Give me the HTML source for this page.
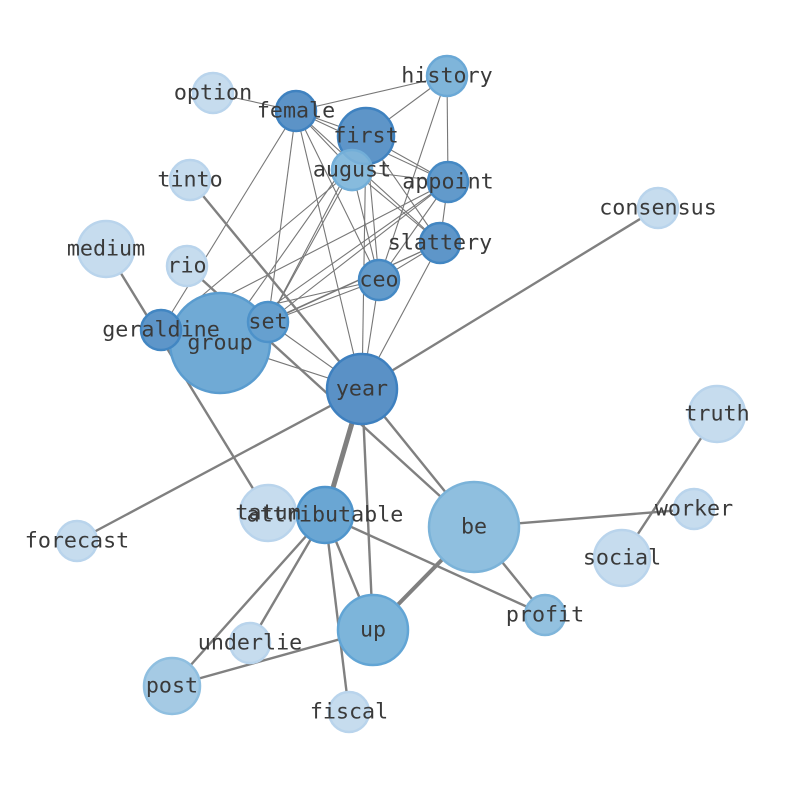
<!DOCTYPE html>
<html><head><meta charset="utf-8"><style>body{margin:0;background:#fff}svg{display:block}</style></head><body>
<svg width="794" height="790" viewBox="0 0 794 790" xmlns="http://www.w3.org/2000/svg">
<g stroke="#777" stroke-width="1.1" fill="none">
<line x1="213" y1="93" x2="296" y2="111"/>
<line x1="296" y1="111" x2="447" y2="76"/>
<line x1="296" y1="111" x2="366" y2="136"/>
<line x1="296" y1="111" x2="352" y2="170"/>
<line x1="296" y1="111" x2="448" y2="182"/>
<line x1="296" y1="111" x2="440" y2="243"/>
<line x1="296" y1="111" x2="379" y2="280"/>
<line x1="296" y1="111" x2="268" y2="322"/>
<line x1="296" y1="111" x2="161" y2="330"/>
<line x1="296" y1="111" x2="362" y2="389"/>
<line x1="366" y1="136" x2="447" y2="76"/>
<line x1="366" y1="136" x2="448" y2="182"/>
<line x1="366" y1="136" x2="440" y2="243"/>
<line x1="366" y1="136" x2="379" y2="280"/>
<line x1="366" y1="136" x2="268" y2="322"/>
<line x1="366" y1="136" x2="220" y2="343"/>
<line x1="366" y1="136" x2="362" y2="389"/>
<line x1="352" y1="170" x2="448" y2="182"/>
<line x1="352" y1="170" x2="440" y2="243"/>
<line x1="352" y1="170" x2="379" y2="280"/>
<line x1="352" y1="170" x2="161" y2="330"/>
<line x1="352" y1="170" x2="268" y2="322"/>
<line x1="447" y1="76" x2="448" y2="182"/>
<line x1="447" y1="76" x2="379" y2="280"/>
<line x1="448" y1="182" x2="440" y2="243"/>
<line x1="448" y1="182" x2="268" y2="322"/>
<line x1="448" y1="182" x2="161" y2="330"/>
<line x1="448" y1="182" x2="379" y2="280"/>
<line x1="448" y1="182" x2="220" y2="343"/>
<line x1="440" y1="243" x2="268" y2="322"/>
<line x1="440" y1="243" x2="379" y2="280"/>
<line x1="440" y1="243" x2="362" y2="389"/>
<line x1="440" y1="243" x2="220" y2="343"/>
<line x1="379" y1="280" x2="268" y2="322"/>
<line x1="379" y1="280" x2="161" y2="330"/>
<line x1="379" y1="280" x2="362" y2="389"/>
<line x1="161" y1="330" x2="268" y2="322"/>
<line x1="220" y1="343" x2="362" y2="389"/>
<line x1="268" y1="322" x2="362" y2="389"/>
</g>
<g stroke="#808080" stroke-width="2.4" fill="none">
<line x1="190" y1="180" x2="362" y2="389"/>
<line x1="106" y1="249" x2="268" y2="513"/>
<line x1="187" y1="266" x2="474" y2="527"/>
<line x1="658" y1="208" x2="362" y2="389"/>
<line x1="77" y1="541" x2="362" y2="389"/>
<line x1="362" y1="389" x2="373" y2="630"/>
<line x1="362" y1="389" x2="325" y2="515" stroke-width="5"/>
<line x1="362" y1="389" x2="545" y2="615"/>
<line x1="474" y1="527" x2="694" y2="509"/>
<line x1="717" y1="414" x2="622" y2="558"/>
<line x1="474" y1="527" x2="373" y2="630" stroke-width="4"/>
<line x1="373" y1="630" x2="172" y2="686"/>
<line x1="325" y1="515" x2="373" y2="630"/>
<line x1="325" y1="515" x2="172" y2="686"/>
<line x1="325" y1="515" x2="250" y2="643"/>
<line x1="325" y1="515" x2="349" y2="712"/>
<line x1="325" y1="515" x2="545" y2="615"/>
</g>
<g stroke-width="2.5">
<circle cx="213" cy="93" r="20" fill="#c6dcee" stroke="#b9d4ec"/>
<circle cx="190" cy="180" r="20" fill="#c6dcee" stroke="#b9d4ec"/>
<circle cx="187" cy="266" r="20" fill="#c6dcee" stroke="#b9d4ec"/>
<circle cx="106" cy="249" r="28" fill="#c6dcee" stroke="#b9d4ec"/>
<circle cx="658" cy="208" r="20" fill="#c6dcee" stroke="#b9d4ec"/>
<circle cx="717" cy="414" r="28" fill="#c6dcee" stroke="#b9d4ec"/>
<circle cx="694" cy="509" r="20" fill="#c6dcee" stroke="#b9d4ec"/>
<circle cx="622" cy="558" r="28" fill="#c6dcee" stroke="#b9d4ec"/>
<circle cx="77" cy="541" r="20" fill="#c6dcee" stroke="#b9d4ec"/>
<circle cx="268" cy="513" r="28" fill="#c6dcee" stroke="#b9d4ec"/>
<circle cx="250" cy="643" r="20" fill="#c6dcee" stroke="#b9d4ec"/>
<circle cx="349" cy="712" r="20" fill="#c6dcee" stroke="#b9d4ec"/>
<circle cx="447" cy="76" r="20" fill="#7fb5da" stroke="#6aa8d6"/>
<circle cx="352" cy="170" r="20" fill="#87bbdd" stroke="#72aed8"/>
<circle cx="172" cy="686" r="28" fill="#a5cae4" stroke="#8fbfe0"/>
<circle cx="545" cy="615" r="20" fill="#93c1e0" stroke="#7fb5da"/>
<circle cx="474" cy="527" r="45" fill="#8fbfdf" stroke="#7bb3d9"/>
<circle cx="373" cy="630" r="35" fill="#7db5da" stroke="#62a5d5"/>
<circle cx="220" cy="343" r="50" fill="#70aad5" stroke="#5a9ccf"/>
<circle cx="325" cy="515" r="28" fill="#6aa6d3" stroke="#4f95cc"/>
<circle cx="296" cy="111" r="20" fill="#5c93c7" stroke="#3f82c0"/>
<circle cx="366" cy="136" r="28" fill="#5e95c8" stroke="#3f82c0"/>
<circle cx="352" cy="170" r="20" fill="#87bbdd" fill-opacity="0.8" stroke="#72aed8"/>
<circle cx="448" cy="182" r="20" fill="#629acb" stroke="#4589c4"/>
<circle cx="440" cy="243" r="20" fill="#5e96c9" stroke="#4286c2"/>
<circle cx="379" cy="280" r="20" fill="#639bcb" stroke="#4589c4"/>
<circle cx="161" cy="330" r="20" fill="#5e96c9" stroke="#4286c2"/>
<circle cx="268" cy="322" r="20" fill="#66a0cf" stroke="#4d92ca"/>
<circle cx="362" cy="389" r="35" fill="#5a91c6" stroke="#3e80bf"/>
</g>
<g font-family="DejaVu Sans Mono, Liberation Mono, monospace" font-size="21.7" fill="#3a3a3a" text-anchor="middle" dominant-baseline="central">
<text x="213" y="93">option</text><text x="296" y="111">female</text><text x="447" y="76">history</text>
<text x="366" y="136">first</text><text x="352" y="170">august</text><text x="190" y="180">tinto</text>
<text x="448" y="182">appoint</text><text x="658" y="208">consensus</text><text x="440" y="243">slattery</text>
<text x="106" y="249">medium</text><text x="187" y="266">rio</text><text x="379" y="280">ceo</text>
<text x="161" y="330">geraldine</text><text x="268" y="322">set</text><text x="220" y="343">group</text>
<text x="362" y="389">year</text><text x="717" y="414">truth</text><text x="694" y="509">worker</text>
<text x="474" y="527">be</text><text x="622" y="558">social</text><text x="77" y="541">forecast</text>
<text x="268" y="513">tatum</text><text x="325" y="515">attributable</text><text x="545" y="615">profit</text>
<text x="373" y="630">up</text><text x="250" y="643">underlie</text><text x="172" y="686">post</text>
<text x="349" y="712">fiscal</text>
</g>
</svg>
</body></html>
